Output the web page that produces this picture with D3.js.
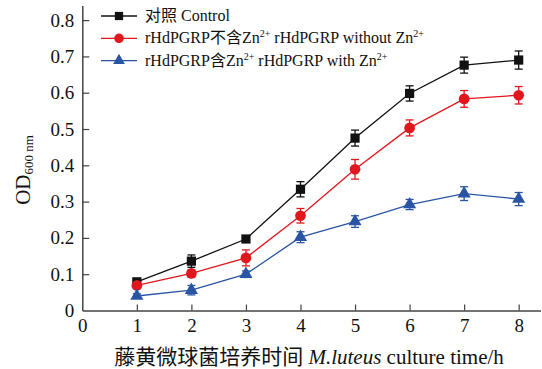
<!DOCTYPE html>
<html>
<head>
<meta charset="utf-8">
<script src="https://cdn.jsdelivr.net/npm/d3@7/dist/d3.min.js"></script>
<style>
  html, body { margin: 0; padding: 0; background: #fff; }
  svg { display: block; }
  text { font-family: "Liberation Serif", "Times New Roman", "Noto Sans CJK SC", serif; fill: #111; }
</style>
</head>
<body>
<svg id="chart" width="542" height="369"></svg>
<script>
// Culture time (h)
const hours = [1, 2, 3, 4, 5, 6, 7, 8];

// OD600 means and standard deviations
const controlOD   = [0.079, 0.136, 0.197, 0.334, 0.475, 0.598, 0.676, 0.690];
const controlSD   = [0.005, 0.017, 0.009, 0.021, 0.022, 0.021, 0.022, 0.025];
const noZnOD      = [0.069, 0.102, 0.145, 0.261, 0.389, 0.503, 0.583, 0.593];
const noZnSD      = [0.005, 0.010, 0.022, 0.020, 0.027, 0.022, 0.023, 0.024];
const withZnOD    = [0.040, 0.056, 0.100, 0.202, 0.245, 0.292, 0.322, 0.307];
const withZnSD    = [0.006, 0.013, 0.009, 0.015, 0.016, 0.014, 0.019, 0.018];

const xTicks = [0, 1, 2, 3, 4, 5, 6, 7, 8];
const yTicks = [0, 0.1, 0.2, 0.3, 0.4, 0.5, 0.6, 0.7, 0.8];

const series = [
  { cn: "对照", en: "Control", zn: null, mean: controlOD, sd: controlSD, color: "#111111", symbol: d3.symbolSquare, size: 85 },
  { cn: "rHdPGRP不含Zn", en: "rHdPGRP without Zn", zn: "2+", mean: noZnOD, sd: noZnSD, color: "#e0171d", symbol: d3.symbolCircle, size: 90 },
  { cn: "rHdPGRP含Zn", en: "rHdPGRP with Zn", zn: "2+", mean: withZnOD, sd: withZnSD, color: "#2a55a5", symbol: d3.symbolTriangle, size: 75 }
];

const svg = d3.select("#chart");

const x = d3.scaleLinear().domain([0, 8.4]).range([82.3, 540.5]);
const y = d3.scaleLinear().domain([0, 0.84]).range([310.5, 5.6]);

// Axes with inward ticks
const axisColor = "#444";
const gx = svg.append("g")
  .attr("transform", `translate(0,${y(0)})`)
  .call(d3.axisBottom(x).tickValues(xTicks).tickFormat(d3.format("d"))
    .tickSizeInner(-6).tickSizeOuter(0).tickPadding(8));
gx.selectAll(".tick line").filter(d => d === 0).remove();

const gy = svg.append("g")
  .attr("transform", `translate(${x(0)},0)`)
  .call(d3.axisLeft(y).tickValues(yTicks).tickFormat(d => d === 0 ? "0" : d3.format(".1f")(d))
    .tickSizeInner(-7).tickSizeOuter(0).tickPadding(8));
gy.selectAll(".tick line").filter(d => d === 0).remove();

[gx, gy].forEach(g => {
  g.select(".domain").attr("stroke", axisColor).attr("stroke-width", 1.5);
  g.selectAll(".tick line").attr("stroke", axisColor).attr("stroke-width", 1.2);
  g.selectAll(".tick text")
    .style("font-family", "'Liberation Serif', serif")
    .attr("font-size", 19).attr("fill", "#111");
});

// Data series: lines, error bars, markers
const line = d3.line().x((d, i) => x(hours[i])).y(d => y(d));
series.forEach(s => {
  const g = svg.append("g");
  g.append("path")
    .attr("d", line(s.mean))
    .attr("fill", "none")
    .attr("stroke", s.color)
    .attr("stroke-width", 1.3);

  const eb = g.selectAll(".eb").data(s.mean).enter().append("g");
  eb.append("line")
    .attr("x1", (d, i) => x(hours[i])).attr("x2", (d, i) => x(hours[i]))
    .attr("y1", (d, i) => y(d - s.sd[i])).attr("y2", (d, i) => y(d + s.sd[i]))
    .attr("stroke", s.color).attr("stroke-width", 1.3);
  [-1, 1].forEach(sign => {
    eb.append("line")
      .attr("x1", (d, i) => x(hours[i]) - 4).attr("x2", (d, i) => x(hours[i]) + 4)
      .attr("y1", (d, i) => y(d + sign * s.sd[i])).attr("y2", (d, i) => y(d + sign * s.sd[i]))
      .attr("stroke", s.color).attr("stroke-width", 1.3);
  });

  g.selectAll(".pt").data(s.mean).enter().append("path")
    .attr("d", d3.symbol().type(s.symbol).size(s.size))
    .attr("transform", (d, i) => `translate(${x(hours[i])},${y(d)})`)
    .attr("fill", s.color);
});

// Legend
const legend = svg.append("g").attr("transform", "translate(101,16)");
series.forEach((s, i) => {
  const row = legend.append("g").attr("transform", `translate(0,${i * 22.3})`);
  row.append("line").attr("x1", 0).attr("x2", 36).attr("y1", 0).attr("y2", 0)
    .attr("stroke", s.color).attr("stroke-width", 1.3);
  row.append("path")
    .attr("d", d3.symbol().type(s.symbol).size(s.size * 0.8))
    .attr("transform", "translate(18,0)")
    .attr("fill", s.color);
  const t = row.append("text").attr("x", 44).attr("y", 5)
    .attr("font-size", 16);
  if (s.zn) {
    t.append("tspan").text(s.cn);
    t.append("tspan").attr("font-size", 10).attr("dy", -6).text(s.zn);
    t.append("tspan").attr("dy", 6).text(" " + s.en);
    t.append("tspan").attr("font-size", 10).attr("dy", -6).text(s.zn);
  } else {
    t.text(s.cn + " " + s.en);
  }
});

// Axis titles
const xt = svg.append("text")
  .attr("x", 309).attr("y", 364)
  .attr("text-anchor", "middle")
  .attr("font-size", 21);
xt.append("tspan").text("藤黄微球菌培养时间 ");
xt.append("tspan").attr("font-style", "italic").text("M.luteus");
xt.append("tspan").text(" culture time/h");

const yt = svg.append("text")
  .attr("transform", "translate(30,170) rotate(-90)")
  .attr("text-anchor", "middle")
  .attr("font-size", 21);
yt.append("tspan").text("OD");
yt.append("tspan").attr("font-size", 13).attr("dy", 3).text("600 nm");
</script>
</body>
</html>
